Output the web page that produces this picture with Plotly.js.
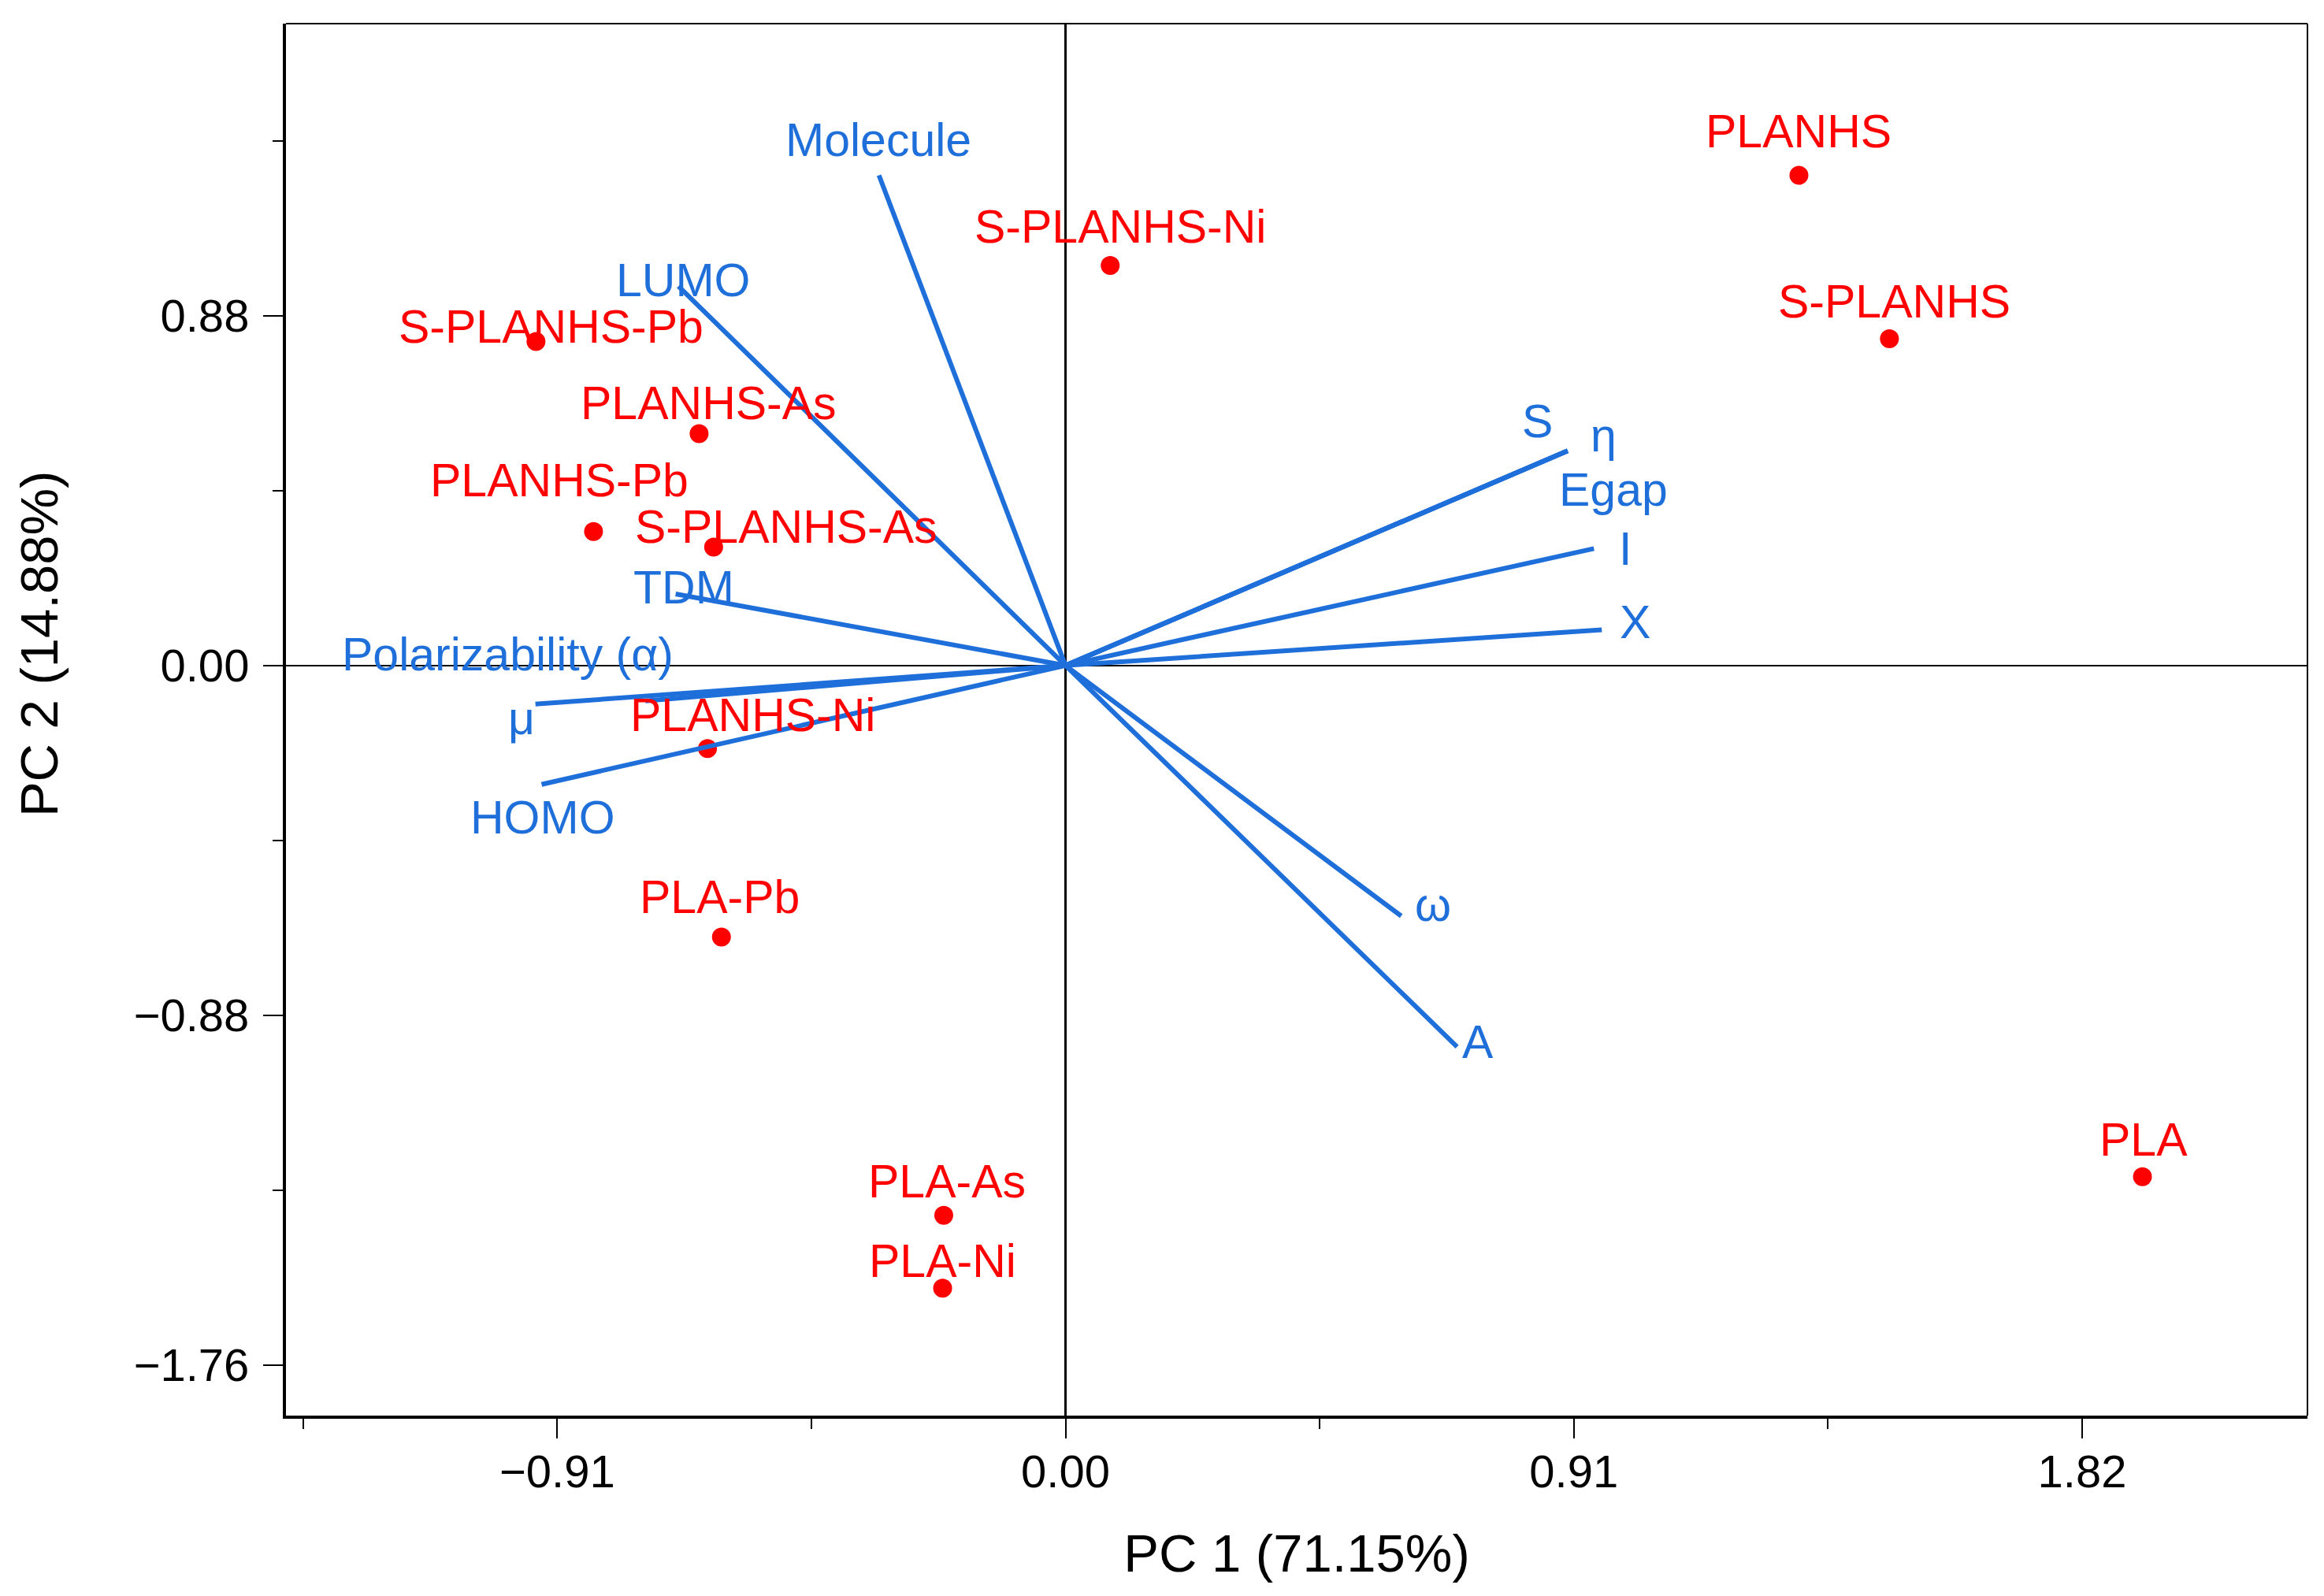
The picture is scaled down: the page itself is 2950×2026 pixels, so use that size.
<!DOCTYPE html>
<html>
<head>
<meta charset="utf-8">
<script src="https://cdn.plot.ly/plotly-3.0.1.min.js"></script>
<style>html,body{margin:0;padding:0;background:#fff;}#chart{width:2950px;height:2026px;}</style>
</head>
<body>
<div id="chart"></div>
<script>
// ---- Data (scores) ----
const sampleNames = ["PLANHS","S-PLANHS","S-PLANHS-Ni","S-PLANHS-Pb","PLANHS-As","PLANHS-Pb","S-PLANHS-As","PLANHS-Ni","PLA-Pb","PLA-As","PLA-Ni","PLA"];
const samplePC1 = [1.313, 1.475, 0.080, -0.948, -0.656, -0.845, -0.630, -0.641, -0.616, -0.218, -0.220, 1.928];
const samplePC2 = [1.233, 0.822, 1.006, 0.815, 0.583, 0.337, 0.298, -0.209, -0.683, -1.383, -1.566, -1.286];

// ---- Data (loadings) ----
const loadingNames = ["Molecule","LUMO","TDM","Polarizability (α)","μ","HOMO","S","η","Egap","I","X","ω","A"];
const loadingPC1 = [-0.334, -0.693, -0.698, -0.752, -0.949, -0.938, 0.899, 0.899, 0.899, 0.946, 0.960, 0.601, 0.701];
const loadingPC2 = [1.233, 0.954, 0.180, -0.089, -0.097, -0.299, 0.540, 0.540, 0.540, 0.294, 0.090, -0.630, -0.959];

// ---- Axis ticks ----
const xTickVals = [-0.91, 0, 0.91, 1.82];
const xTickText = ["\u22120.91", "0.00", "0.91", "1.82"];
const xMinorVals = [-1.365, -0.455, 0.455, 1.365];
const yTickVals = [-1.76, -0.88, 0, 0.88];
const yTickText = ["\u22121.76", "\u22120.88", "0.00", "0.88"];
const yMinorVals = [-1.32, -0.44, 0.44, 1.32];
const xTitle = "PC 1 (71.15%)";
const yTitle = "PC 2 (14.88%)";

// ---- Label placement (pixel offsets from the mark, styling only) ----
const sampleLabelDx = [0, 6, 13, 19, 12, -43, 92, 57, -2, 4, 0, 1];
const sampleLabelDy = [-56, -47, -49, -18, -39, -65, -25, -42, -51, -43, -34, -47];
const loadingLabelDx = [-1, 6, 10, -175, -18, 2, -38, 46, 58, 40, 42, 40, 26];
const loadingLabelDy = [-45, -7, -8, -59, 18, 42, -37, -19, 50, 1, -9, -14, -6];

const RED = "#FF0000";
const BLUE = "#1F6FDB";
const FONT = "Liberation Sans, Arial, Helvetica, sans-serif";

// loading vectors: from origin to each loading
const vx = [], vy = [];
for (let i = 0; i < loadingNames.length; i++) {
  vx.push(0, loadingPC1[i], null);
  vy.push(0, loadingPC2[i], null);
}

const traces = [
  {
    type: "scatter", mode: "markers",
    x: samplePC1, y: samplePC2, text: sampleNames,
    marker: {color: RED, size: 24},
    hoverinfo: "text", showlegend: false
  },
  {
    type: "scatter", mode: "lines",
    x: vx, y: vy,
    line: {color: BLUE, width: 6},
    hoverinfo: "skip", showlegend: false
  }
];

const annotations = [];
sampleNames.forEach((n, i) => {
  annotations.push({
    x: samplePC1[i], y: samplePC2[i], xref: "x", yref: "y",
    text: n, showarrow: false, xanchor: "center", yanchor: "middle",
    xshift: sampleLabelDx[i], yshift: -sampleLabelDy[i],
    font: {family: FONT, size: 59, color: RED}
  });
});
loadingNames.forEach((n, i) => {
  annotations.push({
    x: loadingPC1[i], y: loadingPC2[i], xref: "x", yref: "y",
    text: n, showarrow: false, xanchor: "center", yanchor: "middle",
    xshift: loadingLabelDx[i], yshift: -loadingLabelDy[i],
    font: {family: FONT, size: 59, color: BLUE}
  });
});
// y-axis title (placed as in the original, slightly above the axis centre)
annotations.push({
  x: -0.1219, y: 0.5541, xref: "paper", yref: "paper",
  text: yTitle, textangle: -90, showarrow: false,
  xanchor: "center", yanchor: "middle",
  font: {family: FONT, size: 67, color: "#000"}
});

const layout = {
  width: 2950, height: 2026,
  margin: {l: 363, r: 21, t: 30, b: 229, pad: 0},
  paper_bgcolor: "#fff", plot_bgcolor: "#fff",
  font: {family: FONT, color: "#000"},
  showlegend: false,
  xaxis: {
    range: [-1.3956, 2.2234],
    tickmode: "array", tickvals: xTickVals, ticktext: xTickText,
    ticks: "outside", ticklen: 25, tickwidth: 2, tickcolor: "#000",
    minor: {tickmode: "array", tickvals: xMinorVals, ticks: "outside", ticklen: 13, tickwidth: 2, tickcolor: "#000", showgrid: false},
    tickfont: {family: FONT, size: 58, color: "#000"},
    ticklabelstandoff: -8,
    showgrid: false,
    zeroline: true, zerolinecolor: "#000", zerolinewidth: 2.5,
    showline: true, linecolor: "#000", linewidth: 4, mirror: false,
    title: {text: xTitle, font: {family: FONT, size: 67, color: "#000"}, standoff: 50}
  },
  yaxis: {
    range: [-1.8867, 1.6145],
    tickmode: "array", tickvals: yTickVals, ticktext: yTickText,
    ticks: "outside", ticklen: 25, tickwidth: 2, tickcolor: "#000",
    minor: {tickmode: "array", tickvals: yMinorVals, ticks: "outside", ticklen: 13, tickwidth: 2, tickcolor: "#000", showgrid: false},
    tickfont: {family: FONT, size: 58, color: "#000"},
    ticklabelstandoff: 6,
    showgrid: false,
    zeroline: true, zerolinecolor: "#000", zerolinewidth: 2.5,
    showline: true, linecolor: "#000", linewidth: 4, mirror: false
  },
  shapes: [
    {type: "line", xref: "paper", yref: "paper", x0: 0, x1: 1, y0: 1, y1: 1, line: {color: "#000", width: 2}},
    {type: "line", xref: "paper", yref: "paper", x0: 1, x1: 1, y0: 0, y1: 1, line: {color: "#000", width: 2}}
  ],
  annotations: annotations
};

Plotly.newPlot("chart", traces, layout, {displayModeBar: false, responsive: false, staticPlot: true});
</script>
</body>
</html>
